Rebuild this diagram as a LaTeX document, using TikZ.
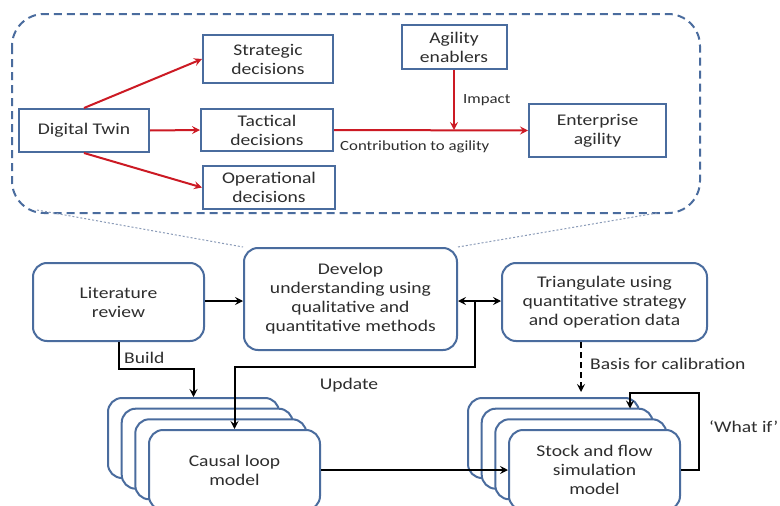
\documentclass[tikz,border=0pt]{standalone}
\usepackage{fontspec}
\setmainfont{Carlito}[FakeStretch=1.2]
\usetikzlibrary{arrows.meta}
\definecolor{boxblue}{HTML}{4A6C9E}
\definecolor{arrred}{HTML}{CC1A24}
\definecolor{txt}{HTML}{2E2E2E}
\definecolor{dotgray}{HTML}{8A9BB8}
\newcommand\boxfont{\fontsize{16.3}{19}\selectfont}
\newcommand\lblfont{\fontsize{14}{17}\selectfont}
\tikzset{
  bluebox/.style={draw=boxblue, line width=2pt, fill=white, text=txt,
    align=center, inner sep=0pt, font=\boxfont},
  sqbox/.style={bluebox},
  rbox/.style={bluebox, rounded corners=14pt},
  tip/.style={-{Stealth[length=8pt,width=8pt,inset=3pt]}},
  redarrow/.style={draw=arrred, line width=2pt, tip},
  blkarrow/.style={draw=black, line width=2pt, tip},
  lbl/.style={text=txt, inner sep=0pt, font=\boxfont},
  smalllbl/.style={text=txt, inner sep=0pt, font=\lblfont},
  stackbox/.style={rbox, minimum width=171pt, minimum height=80pt},
}
\begin{document}
\begin{tikzpicture}[x=1pt,y=-1pt]
\useasboundingbox (0,0) rectangle (780,506);
\clip (0,0) rectangle (780,506);
\fill[white] (0,0) rectangle (780,506);

% zoomed-in view of the digital twin concept
\draw[boxblue, line width=2pt, dash pattern=on 8pt off 5pt, rounded corners=32pt]
  (12,14) rectangle (700,213);

\node[sqbox, minimum width=130pt, minimum height=43pt] (dt) at (84,130.5) {Digital Twin};
\node[sqbox, minimum width=130pt, minimum height=48pt] (strat) at (268,59) {Strategic\\decisions};
\node[sqbox, minimum width=132pt, minimum height=42pt] (tact) at (267,130) {Tactical\\decisions};
\node[sqbox, minimum width=132pt, minimum height=43pt] (oper) at (269,187.5) {Operational\\decisions};
\node[sqbox, minimum width=105pt, minimum height=44pt] (enab) at (454,47) {Agility\\enablers};
\node[sqbox, minimum width=137pt, minimum height=53pt] (ent) at (597.5,130.5) {Enterprise\\agility};

\draw[redarrow] (dt.north) -- (strat.west);
\draw[redarrow] (dt.east) -- (tact.west);
\draw[redarrow] (dt.south) -- (oper.west);
\draw[redarrow] (tact.east) -- (ent.west);
\coordinate (imp) at (enab.south |- tact.east);
\draw[redarrow] (enab.south) -- (imp);
\node[smalllbl, anchor=west] (impl) at (463,100) {Impact};
\node[smalllbl, anchor=west] (contl) at (340,147) {Contribution to agility};

% research process
\node[rbox, minimum width=171pt, minimum height=78pt] (lit) at (118.5,302) {Literature\\review};
\node[rbox, minimum width=213pt, minimum height=102pt] (dev) at (350.5,299)
  {Develop\\understanding using\\qualitative and\\quantitative methods};
\node[rbox, minimum width=205pt, minimum height=78pt] (tri) at (604.5,302)
  {Triangulate using\\quantitative strategy\\and operation data};

% dotted guide lines from the zoomed view to its source box
\draw[dotgray, line width=1pt, dash pattern=on 2pt off 2pt] (37,210) -- (dev.north west);
\draw[dotgray, line width=1pt, dash pattern=on 2pt off 2pt] (657,213) -- (dev.north east);

% stacked model boxes
\node[stackbox] (cl3) at (193.5,438) {};
\node[stackbox] (cl2) at (207.2,448.7) {};
\node[stackbox] (cl1) at (220.8,459.3) {};
\node[stackbox] (cl) at (234.5,470) {Causal loop\\model};

\node[stackbox] (sf3) at (553.5,438) {};
\node[stackbox] (sf2) at (567.2,448.7) {};
\node[stackbox] (sf1) at (580.8,459.3) {};
\node[stackbox] (sf) at (594.5,470) {Stock and flow\\simulation\\model};

% connectors
\draw[blkarrow] (lit.east |- 0,301) -- (dev.west |- 0,301);
\draw[draw=black, line width=2pt, {Stealth[length=8pt,width=8pt,inset=3pt]}-{Stealth[length=8pt,width=8pt,inset=3pt]}]
  (dev.east |- 0,301) -- (tri.west |- 0,301);
\coordinate (upd) at (475,301);
\draw[blkarrow] (upd) |- (234.5,367) -- (cl.north);
\draw[blkarrow] (lit.south) |- (193.5,369) -- (cl3.north);
\node[lbl, anchor=west] (buildl) at (124,358) {Build};
\node[lbl] (updl) at (349,385) {Update};

\coordinate (basisEnd) at (581,392);
\draw[blkarrow, dash pattern=on 6pt off 4pt] (tri.south -| basisEnd) -- (basisEnd);
\node[lbl, anchor=west] (basisl) at (590,364) {Basis for calibration};

\draw[blkarrow] (cl.east) -- (sf.west);
\coordinate (whatEnd) at (630,408.5);
\draw[blkarrow] (sf.east) -| (699,393) -| (whatEnd);
\node[lbl, anchor=west] (whatl) at (709,427) {`What if'};
\end{tikzpicture}
\end{document}
